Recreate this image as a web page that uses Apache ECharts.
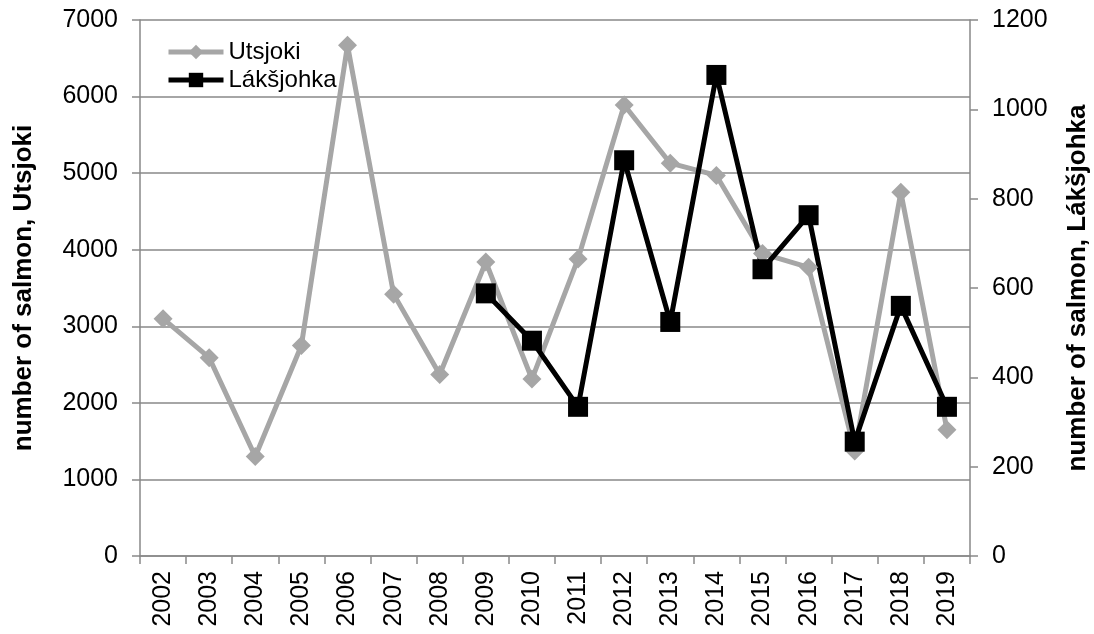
<!DOCTYPE html>
<html>
<head>
<meta charset="utf-8">
<script src="https://cdn.jsdelivr.net/npm/echarts@6/dist/echarts.min.js"></script>
<style>html,body{margin:0;padding:0;background:#fff}#c{width:1094px;height:634px}</style>
</head>
<body>
<div id="c"></div>
<script>
const years = ['2002','2003','2004','2005','2006','2007','2008','2009','2010','2011','2012','2013','2014','2015','2016','2017','2018','2019'];
const utsjoki = [3100, 2590, 1300, 2750, 6670, 3420, 2370, 3840, 2310, 3880, 5890, 5130, 4970, 3950, 3770, 1370, 4750, 1650];
const laksjohka = [null, null, null, null, null, null, null, 588, 482, 334, 886, 524, 1077, 642, 763, 256, 560, 334];
const leftTicks = {min: 0, max: 7000, interval: 1000};
const rightTicks = {min: 0, max: 1200, interval: 200};

const FONT = 'Liberation Sans, Arial, sans-serif';
const axisGray = '#898989';
const plain = v => String(v);
const chart = echarts.init(document.getElementById('c'));
chart.setOption({
  animation: false,
  textStyle: {fontFamily: FONT},
  grid: {left: 140, right: 124, top: 20, bottom: 78, containLabel: false, outerBoundsMode: 'none'},
  legend: {
    left: 161, top: 35, orient: 'vertical', itemGap: 4,
    itemWidth: 55, itemHeight: 18,
    lineStyle: {width: 5},
    textStyle: {fontSize: 24, color: '#000', fontFamily: FONT},
    data: ['Utsjoki', 'Lákšjohka']
  },
  xAxis: {
    type: 'category', data: years, boundaryGap: true,
    axisLine: {lineStyle: {color: axisGray, width: 1.5}},
    axisTick: {show: true, length: 8, lineStyle: {color: axisGray, width: 1.5}},
    axisLabel: {rotate: 90, fontSize: 25, color: '#000', margin: 15, interval: 0}
  },
  yAxis: [{
    type: 'value', min: leftTicks.min, max: leftTicks.max, interval: leftTicks.interval,
    name: 'number of salmon, Utsjoki', nameLocation: 'middle', nameGap: 103, nameRotate: 90,
    nameTextStyle: {fontSize: 26, fontWeight: 'bold', color: '#000'},
    axisLine: {show: true, lineStyle: {color: axisGray, width: 1.5}},
    axisTick: {show: true, length: 8, lineStyle: {color: axisGray, width: 1.5}},
    axisLabel: {fontSize: 25, color: '#000', margin: 22, formatter: plain},
    splitLine: {show: true, lineStyle: {color: axisGray, width: 1.5}}
  }, {
    type: 'value', min: rightTicks.min, max: rightTicks.max, interval: rightTicks.interval,
    name: 'number of salmon, Lákšjohka', nameLocation: 'middle', nameGap: 95, nameRotate: 90,
    nameTextStyle: {fontSize: 26, fontWeight: 'bold', color: '#000'},
    axisLine: {show: true, lineStyle: {color: axisGray, width: 1.5}},
    axisTick: {show: true, length: 8, lineStyle: {color: axisGray, width: 1.5}},
    axisLabel: {fontSize: 25, color: '#000', margin: 22, formatter: plain},
    splitLine: {show: false}
  }],
  series: [{
    name: 'Utsjoki', type: 'line', yAxisIndex: 0, data: utsjoki,
    symbol: 'diamond', symbolSize: 19,
    lineStyle: {color: '#a6a6a6', width: 5},
    itemStyle: {color: '#a6a6a6'}
  }, {
    name: 'Lákšjohka', type: 'line', yAxisIndex: 1, data: laksjohka,
    symbol: 'rect', symbolSize: 20,
    lineStyle: {color: '#000', width: 5},
    itemStyle: {color: '#000'}
  }]
});
</script>
</body>
</html>
